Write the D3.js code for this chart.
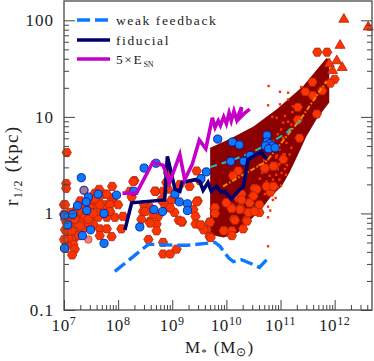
<!DOCTYPE html>
<html>
<head>
<meta charset="utf-8">
<script src="https://cdn.jsdelivr.net/npm/d3@7"></script>
<style>
  html, body { margin: 0; padding: 0; background: white; }
  svg { display: block; }
  text { font-family: "Liberation Serif", serif; fill: #222; }
</style>
</head>
<body>
<svg></svg>
<script>
// colours
const RED = '#ff3300';
const RED_EDGE = '#a82a10';
const BLUE = '#0a78ff';
const NAVY = '#00006e';
const MAGENTA = '#c400c8';
const BAND = '#8b0000';

// all data as [log10 M*, log10 r1/2]
const redHexagons = [
  [7.05,0.63],[7.04,0.31],[7.04,0.26],[7.89,0.28],[7.00,0.09],[7.65,0.25],[7.57,0.21],[7.76,0.20],[7.91,0.16],
  [7.73,0.09],[7.85,0.11],[8.00,0.09],[7.59,0.09],[7.48,0.06],[7.30,0.13],[7.23,0.04],[7.45,0.01],[7.54,-0.04],
  [7.30,-0.04],[7.17,-0.08],[7.33,-0.10],[7.11,-0.13],[7.36,-0.15],[7.20,-0.18],[7.08,-0.25],[7.20,-0.25],
  [7.17,-0.32],[7.05,-0.32],[7.66,-0.16],[7.79,-0.16],[7.66,-0.23],[7.88,-0.24],[7.94,-0.04],[8.09,-0.03],
  [7.63,-0.04],[7.79,-0.04],[8.06,-0.16],[7.14,-0.03],[7.54,-0.11],[7.45,-0.10],[7.02,-0.06],[7.02,-0.17],
  [7.23,0.01],[7.66,0.02],[7.54,0.14],[7.39,0.08],[7.11,0.01],[7.33,0.01],[7.20,-0.04],[7.11,-0.06],[7.39,-0.03],
  [7.76,0.04],[7.85,0.02],[7.51,0.01],
  [7.66,0.09],[7.85,0.09],[7.66,0.18],[7.79,0.20],[7.57,0.15],[7.20,-0.06],[7.30,-0.13],[7.20,-0.37],[7.15,-0.43],
  [7.08,-0.25],[7.00,-0.27],[7.02,-0.36],[7.02,0.09],[7.00,-0.01],[7.05,-0.10],[7.14,-0.18],[7.27,-0.23],[7.45,-0.06],
  [7.54,0.00],[7.85,0.02],
  [8.30,0.34],[8.22,0.23],[8.25,0.17],[8.69,0.23],[8.92,0.42],[9.45,0.44],[9.51,0.34],[9.32,0.28],[8.48,0.09],
  [8.46,0.02],[8.43,-0.06],[8.59,-0.08],[8.71,-0.11],[8.74,-0.03],[8.65,-0.01],[8.59,0.06],[8.86,0.09],[8.95,0.06],
  [8.80,0.14],[8.92,0.25],[9.04,0.01],[9.12,-0.07],[9.18,-0.09],[9.39,0.04],[9.43,-0.03],[9.47,0.13],[9.43,-0.11],
  [9.53,-0.12],[9.63,-0.17],[9.69,-0.24],[8.56,-0.27],[8.83,-0.30],[9.14,0.30],[8.99,0.14],[8.83,0.23],[8.89,0.32],
  [8.83,-0.42],[8.96,-0.42],[9.08,-0.37],[8.28,0.33],[8.68,0.23],[8.50,0.02],[8.59,-0.10],[8.71,-0.18],[8.96,0.06],[9.17,-0.08],
  [10.22,0.44],[10.12,0.39],[10.00,0.11],[10.09,0.06],[10.22,0.16],[10.28,0.20],[10.52,0.26],[10.49,0.18],[10.43,0.11],
  [10.26,0.05],[10.40,0.01],[10.53,0.03],[10.61,0.09],[10.37,-0.07],[10.14,-0.06],[9.78,0.05],[9.69,-0.09],
  [9.96,-0.18],[10.10,-0.18],[10.10,-0.23],[10.31,-0.16],[9.71,-0.25],[10.81,0.22],[10.86,0.28],[10.71,0.46],
  [10.89,0.49],[11.05,0.56],[10.61,0.01],[10.87,0.49],[10.71,0.47],
  [9.79,0.06],[9.79,0.00],[9.70,-0.09],[9.58,-0.17],[9.52,-0.12],[9.45,0.12],[9.95,-0.18],[10.16,-0.07],[10.38,-0.08],
  [10.41,0.01],[10.52,0.02],[10.56,0.25],[10.50,0.18],[10.25,0.04],[10.10,0.05],[10.00,0.11],[10.28,0.14],[10.74,0.28],[10.87,0.28],
  [11.68,1.67],[11.86,1.67],[12.0,1.39],[11.92,1.35],[11.77,1.27],[11.59,1.36],[11.46,1.26],[11.60,1.22],
  [11.32,1.10],[11.67,1.03],[11.32,0.97],[11.35,0.78]
];

const redTriangles = [
  [12.17,2.01],[12.62,1.93],[12.10,1.74],[11.90,1.55],[12.04,1.58],[11.96,1.48],[12.14,1.51]
];

const blueCircles = [
  [7.32,0.37],[7.37,0.24],[7.45,0.17],[7.63,0.20],[7.97,0.19],[7.25,0.08],[7.41,0.12],[7.01,-0.02],[7.16,-0.01],
  [7.42,0.03],[7.74,0.00],[7.07,-0.12],[7.49,-0.17],[7.34,-0.23],[7.74,-0.31],[7.01,-0.36],
  [8.48,0.47],[8.70,0.52],[8.29,0.23],[9.53,0.36],[9.63,0.43],[9.05,0.20],[9.13,0.12],[9.28,0.10],[9.28,0.03],
  [8.82,0.02],[8.66,0.04],[8.40,-0.14],
  [9.84,0.77],[10.11,0.74],[10.24,0.71],[10.08,0.54],[10.32,0.54],[10.44,0.60],[10.75,0.81],[10.75,0.74],
  [10.80,0.72],[10.85,0.70],[10.72,0.70],[10.78,0.67],[10.90,0.68]
];

const paleMarkers = [[7.37,0.24],[7.45,-0.27],[7.03,-0.36]];

const smallDots = [
  [10.78,1.32],[10.99,1.26],[11.14,1.25],[10.77,1.12],[10.99,1.13],[11.14,1.18],[11.23,1.11],[11.22,1.05],[11.08,1.01],
  [10.93,0.99],[10.85,1.0],[11.05,0.94],[11.14,0.95],[11.2,0.92],[11.17,0.87],[11.01,0.87],[10.95,0.82],[11.05,0.78],
  [11.11,0.73],[10.86,0.75],[11.2,0.68],[11.08,0.61],[11.17,0.61],[10.98,0.66],[11.38,1.31],
  [11.01,0.29],[10.91,0.16],[10.86,0.14],[10.77,0.07],[10.81,0.03],[10.77,-0.04],[10.77,-0.34],[10.71,0.20],
  [10.92,0.40],[10.98,0.35],[11.08,0.46],[10.98,0.51],[10.92,0.58],[11.05,0.61],[10.74,0.33],[10.80,0.39],[10.86,0.35],
  [11.08,0.54],[10.77,0.56],[10.83,0.46],[10.9,0.7],[11.0,0.56],[11.12,0.5],[10.95,0.46],[11.02,0.42],[10.7,0.55],
  [10.66,0.42],[10.62,0.36],[10.7,0.3],[10.95,0.27],[10.88,0.22],[10.93,0.6],[11.1,0.4],[10.6,0.5]
];

const bandUpper = [[9.70,0.68],[10.06,0.77],[10.50,0.90],[10.93,1.08],[11.42,1.32],[11.85,1.61],[11.90,1.59]];
const bandLower = [[11.90,1.15],[11.66,0.97],[11.48,0.80],[11.29,0.57],[11.17,0.43],[11.02,0.28],[10.83,0.18],
  [10.71,0.09],[10.46,-0.06],[10.21,-0.20],[9.95,-0.25],[9.70,-0.22]];

const cyanLine = [[9.70,0.48],[10.1,0.55],[10.5,0.64],[10.8,0.73],[11.1,0.83],[11.39,0.97]];
const orangeLine = [[9.94,0.28],[10.74,0.54],[11.4,1.0],[11.85,1.37]];

const weakFeedback = [[7.94,-0.60],[8.56,-0.32],[8.7,-0.32],[9.08,-0.33],[9.27,-0.33],[9.79,-0.30],[9.88,-0.34],
  [10.04,-0.46],[10.13,-0.50],[10.28,-0.48],[10.50,-0.53],[10.61,-0.56],[10.76,-0.47]];

const fiducial = [[8.125,-0.17],[8.25,0.11],[8.86,0.14],[8.91,0.59],[9.05,0.25],[9.14,0.23],[9.18,0.32],[9.42,0.35],
  [9.51,0.33],[9.57,0.24],[9.66,0.32],[9.72,0.23],[9.82,0.28],[9.90,0.22],[9.97,0.23],[10.09,0.15],[10.25,0.25],
  [10.31,0.27],[10.40,0.56],[10.55,0.61],[10.65,0.635],[10.74,0.56]];

const fiveESN = [[8.08,0.21],[8.34,0.21],[8.64,0.53],[8.83,0.50],[8.95,0.32],[9.14,0.61],[9.23,0.35],[9.37,0.51],[9.50,0.76],
  [9.62,0.67],[9.74,0.99],[9.79,0.89],[9.85,0.96],[9.89,0.91],[9.95,1.0],[10.0,0.93],[10.05,1.04],[10.09,0.96],
  [10.14,1.06],[10.19,0.97],[10.28,1.10],[10.25,0.99],[10.34,1.04],[10.43,1.08]];

// axis ticks
const xDecades = [7, 8, 9, 10, 11, 12];
const yDecades = [-1, 0, 1, 2];
const minorSteps = [2, 3, 4, 5, 6, 7, 8, 9];
const yLabels = ['0.1', '1', '10', '100'];

const width = 374;
const height = 361;
const left = 64, right = 372, top_ = 1, bottom = 310;

const svg = d3.select("svg").attr("width", width).attr("height", height);

const x = d3.scaleLog().domain([1e7, Math.pow(10, 12.69)]).range([left, right]);
const y = d3.scaleLog().domain([0.1, Math.pow(10, 2.2)]).range([bottom, top_]);

const px = d => x(Math.pow(10, d[0]));
const py = d => y(Math.pow(10, d[1]));
const line = d3.line().x(px).y(py);

// band
svg.append("path")
  .attr("d", line(bandUpper.concat(bandLower)) + "Z")
  .attr("fill", BAND);

// small dots
svg.selectAll(".dot").data(smallDots).enter().append("rect")
  .attr("class", "dot")
  .attr("x", d => px(d) - 1.2)
  .attr("y", d => py(d) - 1.2)
  .attr("width", 2.4)
  .attr("height", 2.4)
  .attr("fill", RED);

// hexagon symbol
const hexagon = {
  draw(ctx, size) {
    const r = Math.sqrt(size);
    for (let i = 0; i < 6; i++) {
      const a = Math.PI / 3 * i;
      if (i === 0) ctx.moveTo(r * Math.cos(a), r * Math.sin(a));
      else ctx.lineTo(r * Math.cos(a), r * Math.sin(a));
    }
    ctx.closePath();
  }
};

svg.selectAll(".hex").data(redHexagons).enter().append("path")
  .attr("class", "hex")
  .attr("transform", d => `translate(${px(d)},${py(d)})`)
  .attr("d", d3.symbol().type(hexagon).size(22))
  .attr("fill", RED)
  .attr("stroke", RED_EDGE)
  .attr("stroke-width", 0.8);

svg.selectAll(".tri").data(redTriangles).enter().append("path")
  .attr("class", "tri")
  .attr("transform", d => `translate(${px(d)},${py(d)})`)
  .attr("d", d3.symbol().type(d3.symbolTriangle).size(44))
  .attr("fill", RED)
  .attr("stroke", RED_EDGE)
  .attr("stroke-width", 0.8);

svg.selectAll(".pale").data(paleMarkers).enter().append("circle")
  .attr("class", "pale")
  .attr("cx", px).attr("cy", py).attr("r", 3.8)
  .attr("fill", "#f08070")
  .attr("stroke", "#d04030")
  .attr("stroke-width", 0.8);

// fits
svg.append("path").attr("d", line(cyanLine))
  .attr("fill", "none").attr("stroke", "#18c0c8").attr("stroke-width", 2)
  .attr("stroke-dasharray", "7 5");
svg.append("path").attr("d", line(orangeLine))
  .attr("fill", "none").attr("stroke", "#f08a00").attr("stroke-width", 2)
  .attr("stroke-dasharray", "5 2 1.5 2");

svg.selectAll(".blue").data(blueCircles).enter().append("circle")
  .attr("class", "blue")
  .attr("cx", px).attr("cy", py).attr("r", 4.1)
  .attr("fill", BLUE)
  .attr("fill-opacity", (d, i) => i === 1 ? 0.35 : 1)
  .attr("stroke", "#0a1a90")
  .attr("stroke-width", 0.9);

// simulation lines
svg.append("path").attr("d", line(weakFeedback))
  .attr("fill", "none").attr("stroke", BLUE).attr("stroke-width", 3.4)
  .attr("stroke-dasharray", "13 5");
svg.append("path").attr("d", line(fiducial))
  .attr("fill", "none").attr("stroke", NAVY).attr("stroke-width", 3.6);
svg.append("path").attr("d", line(fiveESN))
  .attr("fill", "none").attr("stroke", MAGENTA).attr("stroke-width", 3.6);

// frame
svg.append("rect")
  .attr("x", left).attr("y", top_)
  .attr("width", right - left).attr("height", bottom - top_)
  .attr("fill", "none").attr("stroke", "#555").attr("stroke-width", 1.4);

// axes
const xMinor = xDecades.flatMap(e => minorSteps.map(m => m * Math.pow(10, e))).filter(v => x(v) < right);
const yMinor = yDecades.flatMap(e => minorSteps.map(m => m * Math.pow(10, e))).filter(v => y(v) > top_);
const xMajor = xDecades.map(e => Math.pow(10, e));
const yMajor = yDecades.map(e => Math.pow(10, e));

function tickAxis(axis, values, size, transform) {
  const g = svg.append("g").attr("transform", transform)
    .call(axis.tickValues(values).tickSize(size).tickFormat(""));
  g.select(".domain").remove();
  g.selectAll("line").attr("stroke", "#444").attr("stroke-width", 1);
}
tickAxis(d3.axisBottom(x), xMajor, -10, `translate(0,${bottom})`);
tickAxis(d3.axisBottom(x), xMinor, -5, `translate(0,${bottom})`);
tickAxis(d3.axisLeft(y), yMajor, -11, `translate(${left},0)`);
tickAxis(d3.axisLeft(y), yMinor, -5, `translate(${left},0)`);
tickAxis(d3.axisRight(y), yMajor, -11, `translate(${right},0)`);
tickAxis(d3.axisRight(y), yMinor, -5, `translate(${right},0)`);

// tick labels
yDecades.forEach((e, i) => {
  svg.append("text")
    .attr("x", left - 10)
    .attr("y", y(Math.pow(10, e)) + 6)
    .attr("text-anchor", "end")
    .attr("font-size", 17)
    .attr("letter-spacing", 1)
    .text(yLabels[i]);
});

xDecades.forEach(e => {
  const t = svg.append("text")
    .attr("x", x(Math.pow(10, e)))
    .attr("y", 331)
    .attr("text-anchor", "middle")
    .attr("font-size", 17)
    .attr("letter-spacing", 0.6);
  t.append("tspan").text("10");
  t.append("tspan").attr("dy", -6).attr("font-size", 12).text(e);
});

// axis titles
const xTitle = svg.append("text").attr("x", 185).attr("y", 353)
  .attr("font-size", 17).attr("letter-spacing", 1);
xTitle.append("tspan").text("M");
xTitle.append("tspan").attr("dy", 3).attr("font-size", 11).text("*");
xTitle.append("tspan").attr("dy", -3).attr("dx", 6).text("(M");
xTitle.append("tspan").attr("dy", 3).attr("font-size", 12).text("⊙");
xTitle.append("tspan").attr("dy", -3).text(")");

const yTitle = svg.append("text")
  .attr("transform", "translate(18,206) rotate(-90)")
  .attr("font-size", 19).attr("letter-spacing", 1.3);
yTitle.append("tspan").text("r");
yTitle.append("tspan").attr("dy", 4).attr("font-size", 12).text("1/2");
yTitle.append("tspan").attr("dy", -4).attr("dx", 7).text("(kpc)");

// legend
const legendNames = ["weak feedback", "fiducial", "5×E"];
const legendColors = [BLUE, NAVY, MAGENTA];
const legendDash = ["13 5", null, null];
const legendY = [20, 40, 59];
legendNames.forEach((name, i) => {
  svg.append("line")
    .attr("x1", 77).attr("x2", 110)
    .attr("y1", legendY[i]).attr("y2", legendY[i])
    .attr("stroke", legendColors[i]).attr("stroke-width", 3.4)
    .attr("stroke-dasharray", legendDash[i]);
  const t = svg.append("text")
    .attr("x", 116).attr("y", legendY[i] + 5)
    .attr("font-size", 13.5).attr("letter-spacing", 1.6)
    .text(name);
  if (i === 2) t.append("tspan").attr("dy", 2.5).attr("font-size", 8).attr("letter-spacing", 0).text("SN");
});
</script>
</body>
</html>
